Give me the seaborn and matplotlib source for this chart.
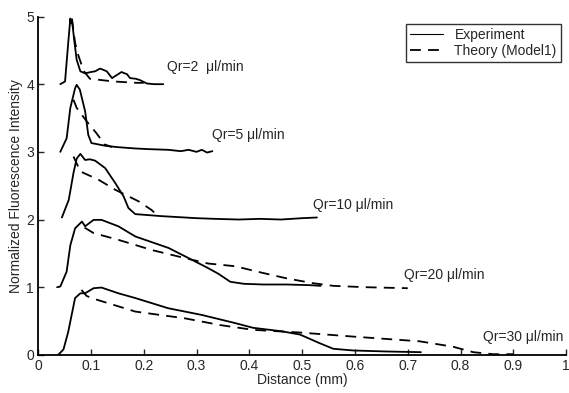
import numpy as np
import pandas as pd
import matplotlib
matplotlib.use('Agg')
import matplotlib.pyplot as plt
import seaborn as sns

# Experiment curves (distance mm, normalized intensity incl. vertical offset)
exp_x_2 = [0.042, 0.051, 0.057, 0.061, 0.062, 0.064, 0.069, 0.073, 0.080, 0.089, 0.100, 0.108, 0.117, 0.121,
           0.130, 0.140, 0.146, 0.152, 0.158, 0.164, 0.168, 0.174, 0.185, 0.193, 0.206, 0.220, 0.237]
exp_y_2 = [4.00, 4.04, 4.61, 4.97, 4.90, 4.95, 4.61, 4.36, 4.19, 4.16, 4.18, 4.19, 4.23, 4.22,
           4.19, 4.09, 4.12, 4.15, 4.18, 4.16, 4.15, 4.09, 4.08, 4.06, 4.01, 4.00, 4.00]

exp_x_5 = [0.042, 0.054, 0.061, 0.070, 0.073, 0.079, 0.089, 0.095, 0.101, 0.127, 0.150, 0.184, 0.210,
           0.247, 0.270, 0.285, 0.300, 0.310, 0.320, 0.330]
exp_y_5 = [3.00, 3.20, 3.65, 3.94, 3.99, 3.92, 3.60, 3.25, 3.13, 3.09, 3.07, 3.05, 3.04,
           3.03, 3.01, 3.03, 3.00, 3.03, 2.99, 3.01]

exp_x_10 = [0.045, 0.058, 0.067, 0.073, 0.080, 0.089, 0.098, 0.108, 0.127, 0.146, 0.162, 0.171, 0.184,
            0.234, 0.300, 0.335, 0.380, 0.420, 0.460, 0.500, 0.528]
exp_y_10 = [2.03, 2.29, 2.69, 2.90, 2.97, 2.88, 2.89, 2.87, 2.76, 2.54, 2.34, 2.17, 2.08,
            2.05, 2.02, 2.01, 2.00, 2.01, 2.00, 2.02, 2.03]

exp_x_20 = [0.036, 0.042, 0.054, 0.061, 0.070, 0.083, 0.089, 0.105, 0.120, 0.152, 0.184, 0.247, 0.300,
            0.320, 0.341, 0.364, 0.390, 0.426, 0.470, 0.515, 0.535]
exp_y_20 = [1.00, 1.01, 1.23, 1.62, 1.87, 1.97, 1.90, 1.995, 1.995, 1.90, 1.75, 1.58, 1.37,
            1.29, 1.20, 1.08, 1.05, 1.04, 1.04, 1.03, 1.02]

exp_x_30 = [0.038, 0.048, 0.057, 0.070, 0.080, 0.089, 0.105, 0.120, 0.152, 0.184, 0.246, 0.310, 0.373,
            0.407, 0.460, 0.496, 0.534, 0.559, 0.597, 0.660, 0.725]
exp_y_30 = [0.00, 0.08, 0.34, 0.84, 0.91, 0.91, 0.985, 0.995, 0.91, 0.84, 0.69, 0.59, 0.47,
            0.40, 0.35, 0.30, 0.17, 0.09, 0.065, 0.05, 0.04]

# Theory (Model1) curves
th_x_2 = [0.064, 0.070, 0.076, 0.086, 0.098, 0.143, 0.187, 0.200]
th_y_2 = [4.97, 4.61, 4.43, 4.20, 4.08, 4.04, 4.02, 4.02]

th_x_5 = [0.067, 0.073, 0.092, 0.110, 0.126, 0.140]
th_y_5 = [3.77, 3.65, 3.45, 3.28, 3.11, 3.07]

th_x_10 = [0.067, 0.080, 0.114, 0.146, 0.190, 0.215, 0.226]
th_y_10 = [2.93, 2.71, 2.59, 2.44, 2.27, 2.14, 2.06]

th_x_20 = [0.088, 0.105, 0.152, 0.215, 0.278, 0.322, 0.373, 0.426, 0.471, 0.520, 0.559, 0.620, 0.700]
th_y_20 = [1.88, 1.80, 1.70, 1.55, 1.43, 1.35, 1.31, 1.21, 1.13, 1.06, 1.02, 1.00, 0.985]

th_x_30 = [0.082, 0.092, 0.105, 0.184, 0.278, 0.345, 0.407, 0.496, 0.597, 0.723, 0.786, 0.824, 0.862, 0.900]
th_y_30 = [0.96, 0.87, 0.83, 0.64, 0.54, 0.44, 0.37, 0.33, 0.27, 0.20, 0.12, 0.04, 0.01, 0.01]

flow_labels = ['Qr=2  \u03bcl/min', 'Qr=5 \u03bcl/min', 'Qr=10 \u03bcl/min', 'Qr=20 \u03bcl/min', 'Qr=30 \u03bcl/min']
label_x = [0.244, 0.329, 0.521, 0.692, 0.843]
label_y = [4.25, 3.25, 2.22, 1.18, 0.26]

exp_sets = [(exp_x_2, exp_y_2), (exp_x_5, exp_y_5), (exp_x_10, exp_y_10), (exp_x_20, exp_y_20), (exp_x_30, exp_y_30)]
th_sets = [(th_x_2, th_y_2), (th_x_5, th_y_5), (th_x_10, th_y_10), (th_x_20, th_y_20), (th_x_30, th_y_30)]

rows = []
for i, ((ex, ey), (tx, ty)) in enumerate(zip(exp_sets, th_sets)):
    for x, y in zip(ex, ey):
        rows.append({'dist': x, 'val': y, 'kind': 'Experiment', 'run': i})
    for x, y in zip(tx, ty):
        rows.append({'dist': x, 'val': y, 'kind': 'Theory (Model1)', 'run': i})
df = pd.DataFrame(rows)

sns.set_style("ticks")
plt.rcParams['font.family'] = ['Liberation Sans', 'DejaVu Sans']
plt.rcParams['xtick.direction'] = 'in'
plt.rcParams['ytick.direction'] = 'in'

fig = plt.figure(figsize=(5.69, 3.93), dpi=100)
ax = fig.add_axes([0.067, 0.097, 0.928, 0.861])

sns.lineplot(data=df, x='dist', y='val', hue='kind', style='kind', units='run', estimator=None,
             sort=False, palette={'Experiment': 'black', 'Theory (Model1)': 'black'},
             dashes={'Experiment': '', 'Theory (Model1)': (6, 4)}, linewidth=1.3, ax=ax)

for t, x, y in zip(flow_labels, label_x, label_y):
    ax.text(x, y, t, fontsize=10, va='center', ha='left')

ax.set_xlim(0, 1)
ax.set_ylim(0, 5)
xt = np.round(np.arange(0, 1.01, 0.1), 1)
ax.set_xticks(xt)
ax.set_xticklabels(['0'] + [str(v) for v in xt[1:-1]] + ['1'], fontsize=10)
ax.set_yticks(range(6))
ax.set_yticklabels([str(v) for v in range(6)], fontsize=10)
ax.tick_params(length=4, width=1, pad=3)
ax.set_xlabel('Distance (mm)', fontsize=10, labelpad=0)
ax.set_ylabel('Normalized Fluorescence Intensity', fontsize=10, labelpad=2)
for s in ['top', 'right']:
    ax.spines[s].set_visible(False)
for s in ['left', 'bottom']:
    ax.spines[s].set_linewidth(1.3)
    ax.spines[s].set_color('black')

h, l = ax.get_legend_handles_labels()
h[0].set_linewidth(0.8)
leg = ax.legend(h, l, loc='upper right', bbox_to_anchor=(0.99, 0.978), borderaxespad=0, fontsize=10,
                frameon=True, fancybox=False, edgecolor='black', handlelength=2.4, borderpad=0.3,
                labelspacing=0.15)
leg.get_frame().set_linewidth(1.0)

fig.savefig('out.png', dpi=100)
